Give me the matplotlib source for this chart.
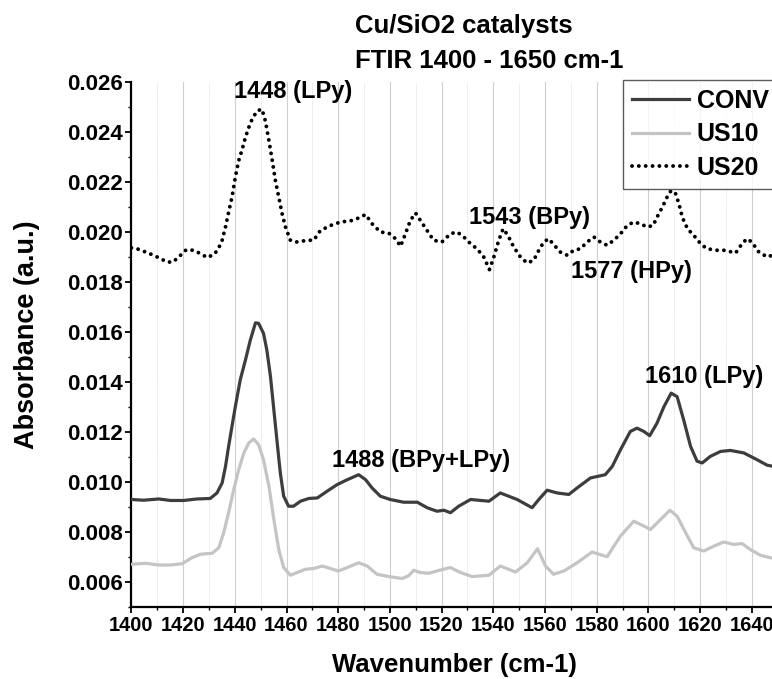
import numpy as np
import matplotlib
matplotlib.use("Agg")
import matplotlib.pyplot as plt
from matplotlib.ticker import MultipleLocator, FormatStrFormatter

plt.rcParams['font.family'] = ['Liberation Sans', 'DejaVu Sans']
plt.rcParams['font.weight'] = 'bold'

# Datos (numero de onda, absorbancia)
conv_x = [1400, 1404.7, 1410.6, 1415.1, 1420.2, 1425.4, 1430.5, 1433.1, 1435.1, 1436.4,
          1437.6, 1438.9, 1440.2, 1442.1, 1444.1, 1446.0, 1448.0, 1449.2, 1451.1, 1452.4,
          1453.8, 1455.1, 1456.4, 1457.6, 1458.9, 1460.8, 1462.7, 1465.4, 1468.6, 1471.9,
          1475.7, 1479.5, 1483.5, 1487.9, 1490.6, 1493.1, 1496.3, 1500.1, 1505.3, 1510.6,
          1514.4, 1518.2, 1520.9, 1523.4, 1526.6, 1531.2, 1538.3, 1542.7, 1549.2, 1555.0,
          1557.6, 1560.8, 1564.7, 1569.2, 1572.4, 1577.6, 1583.3, 1586.0, 1589.2, 1593.0,
          1595.6, 1598.2, 1600.5, 1603.3, 1606.0, 1608.8, 1611.1, 1613.6, 1616.3, 1618.8,
          1620.8, 1623.9, 1627.9, 1631.7, 1636.9, 1642.0, 1645.9, 1650]
conv_y = [0.00931, 0.00928, 0.00933, 0.00927, 0.00927, 0.00933, 0.00935, 0.00957, 0.00997, 0.01063,
          0.01143, 0.01223, 0.01302, 0.01409, 0.01488, 0.01568, 0.01637, 0.01635, 0.01595, 0.01528,
          0.01422, 0.01289, 0.01157, 0.01037, 0.00944, 0.00904, 0.00904, 0.00924, 0.00935, 0.00937,
          0.00964, 0.00990, 0.01010, 0.01030, 0.01010, 0.00977, 0.00944, 0.00931, 0.00920, 0.00920,
          0.00898, 0.00884, 0.00888, 0.00878, 0.00904, 0.00931, 0.00924, 0.00957, 0.00931, 0.00898,
          0.00931, 0.00968, 0.00957, 0.00951, 0.00977, 0.01017, 0.01030, 0.01063, 0.01130, 0.01203,
          0.01216, 0.01203, 0.01186, 0.01236, 0.01302, 0.01356, 0.01342, 0.01250, 0.01143, 0.01084,
          0.01077, 0.01103, 0.01123, 0.01127, 0.01117, 0.01090, 0.01068, 0.01060]

us10_x = [1400, 1405.5, 1410.6, 1415.1, 1419.6, 1423.4, 1426.7, 1431.2, 1433.8, 1435.7,
          1437.6, 1439.6, 1441.5, 1443.5, 1445.4, 1447.3, 1449.2, 1451.1, 1453.2, 1455.1,
          1457.0, 1458.9, 1461.5, 1464.1, 1467.3, 1470.5, 1473.8, 1477.0, 1480.1, 1483.5,
          1487.9, 1491.2, 1495.0, 1499.5, 1504.7, 1507.2, 1509.2, 1511.8, 1515.0, 1519.5,
          1523.4, 1527.3, 1531.8, 1538.3, 1542.7, 1548.6, 1553.1, 1557.1, 1560.2, 1563.3,
          1567.3, 1572.4, 1578.2, 1584.0, 1589.2, 1594.3, 1598.2, 1600.8, 1604.7, 1608.3,
          1611.1, 1614.4, 1617.5, 1621.4, 1625.4, 1629.1, 1633.1, 1636.2, 1639.4, 1643.3,
          1647.2, 1650]
us10_y = [0.00672, 0.00676, 0.00669, 0.00669, 0.00674, 0.00698, 0.00712, 0.00716, 0.00738, 0.00798,
          0.00878, 0.00971, 0.01050, 0.01117, 0.01157, 0.01173, 0.01150, 0.01090, 0.00984, 0.00851,
          0.00731, 0.00659, 0.00628, 0.00639, 0.00652, 0.00655, 0.00665, 0.00655, 0.00645, 0.00659,
          0.00678, 0.00665, 0.00632, 0.00623, 0.00615, 0.00626, 0.00648, 0.00639, 0.00636, 0.00649,
          0.00659, 0.00639, 0.00623, 0.00628, 0.00665, 0.00641, 0.00678, 0.00734, 0.00665, 0.00632,
          0.00645, 0.00678, 0.00721, 0.00702, 0.00785, 0.00844, 0.00825, 0.00811, 0.00851, 0.00888,
          0.00864, 0.00798, 0.00738, 0.00725, 0.00745, 0.00761, 0.00751, 0.00755, 0.00731, 0.00708,
          0.00698, 0.00695]

us20_x = [1400, 1402.2, 1405.5, 1408.6, 1411.2, 1413.8, 1416.1, 1419.0, 1421.2, 1423.9, 1426.7,
          1429.3, 1432.1, 1433.8, 1435.1, 1436.4, 1437.6, 1438.9, 1440.2, 1441.5, 1442.9,
          1444.1, 1445.4, 1446.7, 1448.6, 1450.5, 1451.8, 1453.2, 1454.5, 1455.7, 1457.0,
          1458.3, 1459.6, 1461.5, 1464.1, 1468.0, 1470.5, 1473.1, 1477.0, 1480.9, 1485.4,
          1488.6, 1490.6, 1493.1, 1496.3, 1499.5, 1502.2, 1504.1, 1506.0, 1507.9, 1509.9,
          1511.8, 1516.9, 1520.1, 1523.4, 1526.0, 1528.6, 1531.2, 1533.7, 1536.3, 1538.5,
          1540.2, 1542.1, 1543.8, 1545.6, 1547.9, 1550.5, 1553.1, 1555.6, 1557.6, 1559.5,
          1561.4, 1563.6, 1565.9, 1568.6, 1571.1, 1573.7, 1576.3, 1578.9, 1581.4, 1584.0,
          1586.6, 1589.2, 1591.8, 1594.3, 1596.9, 1599.5, 1601.8, 1603.3, 1604.7, 1606.0,
          1607.5, 1608.8, 1610.5, 1611.8, 1613.1, 1615.1, 1617.5, 1620.2, 1622.6, 1626.6,
          1629.7, 1633.7, 1636.2, 1638.1, 1640.0, 1642.7, 1646.0, 1647.8, 1650]
us20_y = [0.01937, 0.01933, 0.01920, 0.01907, 0.01894, 0.01880, 0.01880, 0.01907, 0.01929, 0.01927, 0.01914,
          0.01898, 0.01911, 0.01937, 0.01967, 0.02020, 0.02079, 0.02139, 0.02219, 0.02285, 0.02332,
          0.02378, 0.02418, 0.02451, 0.02484, 0.02491, 0.02445, 0.02365, 0.02285, 0.02206, 0.02139,
          0.02073, 0.02020, 0.01967, 0.01960, 0.01967, 0.01967, 0.02006, 0.02026, 0.02040, 0.02046,
          0.02059, 0.02070, 0.02033, 0.02000, 0.01996, 0.01973, 0.01943, 0.01993, 0.02046, 0.02076,
          0.02046, 0.01967, 0.01960, 0.01993, 0.02000, 0.01980, 0.01953, 0.01933, 0.01900, 0.01850,
          0.01900, 0.01967, 0.02013, 0.01987, 0.01940, 0.01900, 0.01876, 0.01887, 0.01927, 0.01960,
          0.01973, 0.01947, 0.01920, 0.01907, 0.01927, 0.01933, 0.01960, 0.01980, 0.01960, 0.01947,
          0.01967, 0.01993, 0.02026, 0.02040, 0.02033, 0.02020, 0.02026, 0.02059, 0.02086, 0.02113,
          0.02146, 0.02166, 0.02153, 0.02113, 0.02059, 0.02013, 0.01987, 0.01953, 0.01933, 0.01927,
          0.01927, 0.01916, 0.01953, 0.01973, 0.01960, 0.01920, 0.01900, 0.01907, 0.01900]

# Etiquetas de picos: texto, posicion (x, y) en coordenadas de datos
picos = ["1448 (LPy)", "1543 (BPy)", "1577 (HPy)", "1488 (BPy+LPy)", "1610 (LPy)"]
picos_x = [1462.5, 1553.8, 1593.3, 1512.0, 1621.5]
picos_y = [0.02560, 0.02060, 0.01841, 0.01086, 0.01421]

W, H = 772, 679
fig = plt.figure(figsize=(W / 100, H / 100), dpi=100)
# el eje se sale por la derecha (figura original recortada)
ax = fig.add_axes([131.4 / W, (H - 607.3) / H, 646.3 / W, 525.4 / H])

ax.plot(conv_x, conv_y, color='#3d3d3d', lw=2.3, label='CONV', zorder=3)
ax.plot(us10_x, us10_y, color='#c4c4c4', lw=2.3, label='US10', zorder=3)
ax.plot(us20_x, us20_y, color='black', lw=2.8, linestyle=(0, (0.01, 1.75)),
        dash_capstyle='round', label='US20', zorder=3)

ax.set_xlim(1400, 1650)
ax.set_ylim(0.005, 0.026)

ax.xaxis.set_major_locator(MultipleLocator(20))
ax.xaxis.set_minor_locator(MultipleLocator(10))
ax.yaxis.set_major_locator(MultipleLocator(0.002))
ax.yaxis.set_minor_locator(MultipleLocator(0.001))
ax.yaxis.set_major_formatter(FormatStrFormatter('%.3f'))

ax.grid(axis='x', which='major', color='#cfcfcf', lw=0.8, zorder=0)
ax.grid(axis='x', which='minor', color='#dedede', lw=0.7, ls=(0, (1, 1)), zorder=0)

for s in ['top', 'right']:
    ax.spines[s].set_visible(False)
for s in ['left', 'bottom']:
    ax.spines[s].set_linewidth(1.6)

ax.tick_params(axis='both', which='major', direction='out', length=4, width=1.3, pad=2)
ax.tick_params(axis='both', which='minor', direction='out', length=2.5, width=1.0)
ax.tick_params(axis='x', labelsize=14.5)
ax.tick_params(axis='y', labelsize=16)
for lab in ax.get_xticklabels() + ax.get_yticklabels():
    lab.set_fontweight('bold')

for txt, px, py in zip(picos, picos_x, picos_y):
    ax.text(px, py, txt, ha='center', va='center', fontsize=17, fontweight='bold', zorder=4)

leg = ax.legend(loc='upper left', bbox_to_anchor=(623 / W, (H - 80) / H),
                bbox_transform=fig.transFigure, borderaxespad=0, fancybox=False,
                prop={'size': 18, 'weight': 'bold'}, handlelength=2.3,
                handletextpad=0.3, labelspacing=0.38, borderpad=0.35)
leg.get_frame().set_edgecolor('#333333')
leg.get_frame().set_linewidth(1.0)
leg.set_zorder(5)

# titulo en dos lineas alineado a la izquierda
fig.text(355 / W, (H - 33) / H, "Cu/SiO2 catalysts", fontsize=18.5, fontweight='bold',
         ha='left', va='baseline')
fig.text(355 / W, (H - 68) / H, "FTIR 1400 - 1650 cm-1", fontsize=18.5, fontweight='bold',
         ha='left', va='baseline')

fig.text(454 / W, (H - 665) / H, "Wavenumber (cm-1)", fontsize=18.5, fontweight='bold',
         ha='center', va='center')
fig.text(27 / W, (H - 335) / H, "Absorbance (a.u.)", fontsize=19.5, fontweight='bold',
         ha='center', va='center', rotation=90)

fig.savefig('out.png', dpi=100)
